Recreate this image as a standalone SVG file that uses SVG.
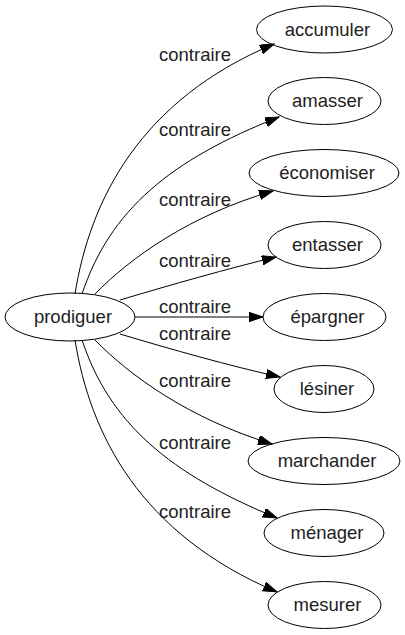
<svg xmlns="http://www.w3.org/2000/svg" width="405" height="635" viewBox="0 0 405 635">
<style>
  .node ellipse { fill: none; stroke: #000; stroke-width: 1; }
  .node text, .lbl { font-family: "Liberation Sans", Arial, sans-serif; font-size: 18.5px; fill: #222; }
  .node text { text-anchor: middle; }
  .lbl { text-anchor: middle; }
  .edge { fill: none; stroke: #000; stroke-width: 1; marker-end: url(#arr); }
</style>
<defs>
  <marker id="arr" markerUnits="userSpaceOnUse" markerWidth="15" markerHeight="10" refX="14" refY="4.7" orient="auto">
    <path d="M0,0 L14,4.7 L0,9.4 z" fill="#000" stroke="#000" stroke-width="1"/>
  </marker>
</defs>
<rect width="405" height="635" fill="#fff"/>
<g id="connectors">
  <path class="edge" d="M75,294 C90,200 140,100 274,44"/>
  <path class="edge" d="M82,294 C110,210 170,160 279,117"/>
  <path class="edge" d="M95,294 C130,258 190,215 273,191"/>
  <path class="edge" d="M120,300 C170,285 230,268 276,257"/>
  <path class="edge" d="M135,317 L263,317"/>
  <path class="edge" d="M120,334 C170,349 230,366 280,377"/>
  <path class="edge" d="M95,340 C130,376 190,419 272,444"/>
  <path class="edge" d="M82,340 C110,424 170,474 277,518"/>
  <path class="edge" d="M75,340 C90,434 140,534 277,592"/>
  <text class="lbl" x="195" y="61">contraire</text>
  <text class="lbl" x="195" y="136">contraire</text>
  <text class="lbl" x="195" y="206">contraire</text>
  <text class="lbl" x="195" y="267">contraire</text>
  <text class="lbl" x="195" y="313">contraire</text>
  <text class="lbl" x="195" y="340">contraire</text>
  <text class="lbl" x="195" y="387">contraire</text>
  <text class="lbl" x="195" y="449">contraire</text>
  <text class="lbl" x="195" y="518">contraire</text>
</g>
<g id="prodiguer" class="node"><ellipse cx="70" cy="317" rx="65" ry="24"/><text x="73" y="323">prodiguer</text></g>
<g id="accumuler" class="node"><ellipse cx="324.5" cy="29.5" rx="68" ry="23.5"/><text x="327.5" y="35.5">accumuler</text></g>
<g id="amasser" class="node"><ellipse cx="324.5" cy="101" rx="56.5" ry="23.5"/><text x="327.5" y="107">amasser</text></g>
<g id="economiser" class="node"><ellipse cx="324" cy="173" rx="75" ry="23.5"/><text x="327" y="179">économiser</text></g>
<g id="entasser" class="node"><ellipse cx="324.5" cy="245" rx="56.5" ry="23.5"/><text x="327.5" y="251">entasser</text></g>
<g id="epargner" class="node"><ellipse cx="324.5" cy="317" rx="61.5" ry="23.5"/><text x="327.5" y="323">épargner</text></g>
<g id="lesiner" class="node"><ellipse cx="324" cy="389" rx="50" ry="23.5"/><text x="327" y="395">lésiner</text></g>
<g id="marchander" class="node"><ellipse cx="324" cy="461" rx="76" ry="23.5"/><text x="327" y="467">marchander</text></g>
<g id="menager" class="node"><ellipse cx="324" cy="533" rx="60" ry="23.5"/><text x="327" y="539">ménager</text></g>
<g id="mesurer" class="node"><ellipse cx="324.5" cy="605" rx="56.5" ry="23.5"/><text x="327.5" y="611">mesurer</text></g>
</svg>
